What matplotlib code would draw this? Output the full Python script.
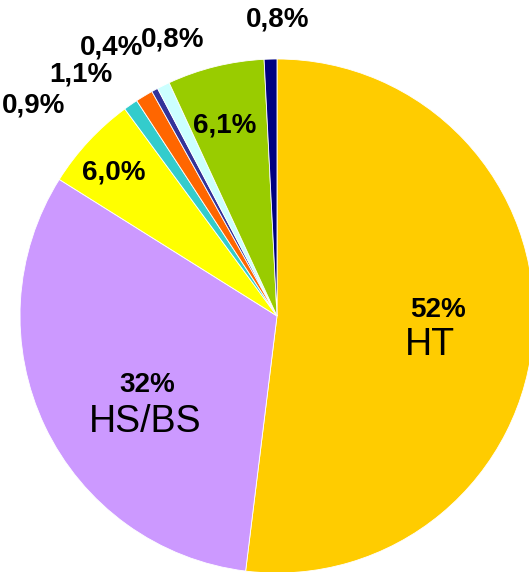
import matplotlib
matplotlib.use("Agg")
import matplotlib.pyplot as plt

# slices clockwise from 12 o'clock
values = [52, 32, 6.0, 0.9, 1.1, 0.4, 0.8, 6.1, 0.8]
pct_labels = ["52%", "32%", "6,0%", "0,9%", "1,1%", "0,4%", "0,8%", "6,1%", "0,8%"]
names = ["HT", "HS/BS", "", "", "", "", "", "", ""]
colors = ["#FFCC00", "#CC99FF", "#FFFF00", "#33CCCC", "#FF6600",
          "#333399", "#CCFFFF", "#99CC00", "#000080"]

# label positions (in pie radius units)
pct_pos = [(0.626, 0.023), (-0.506, -0.268), (-0.634, 0.560), (-0.949, 0.821),
           (-0.763, 0.938), (-0.645, 1.043), (-0.405, 1.074), (-0.202, 0.743),
           (0.004, 1.152)]
name_pos = [(0.595, -0.113), (-0.514, -0.412)]

W, H = 529, 572
cx, cy, r = 277, 316, 257

plt.rcParams['font.family'] = ['Liberation Sans', 'DejaVu Sans']
fig = plt.figure(figsize=(W / 100, H / 100), dpi=100)
ax = fig.add_axes([0, 0, 1, 1])
ax.pie(values, colors=colors, startangle=90, counterclock=False, radius=1,
       wedgeprops=dict(edgecolor="white", linewidth=0.6))
ax.set_xlim(-cx / r, (W - cx) / r)
ax.set_ylim(-(H - cy) / r, cy / r)
ax.set_aspect("equal")
ax.axis("off")

for lab, (x, y) in zip(pct_labels, pct_pos):
    ax.text(x, y, lab, ha="center", va="center", fontsize=20, fontweight="bold")
for lab, (x, y) in zip(names, name_pos):
    ax.text(x, y, lab, ha="center", va="center", fontsize=27)

fig.savefig("out.png", dpi=100)
